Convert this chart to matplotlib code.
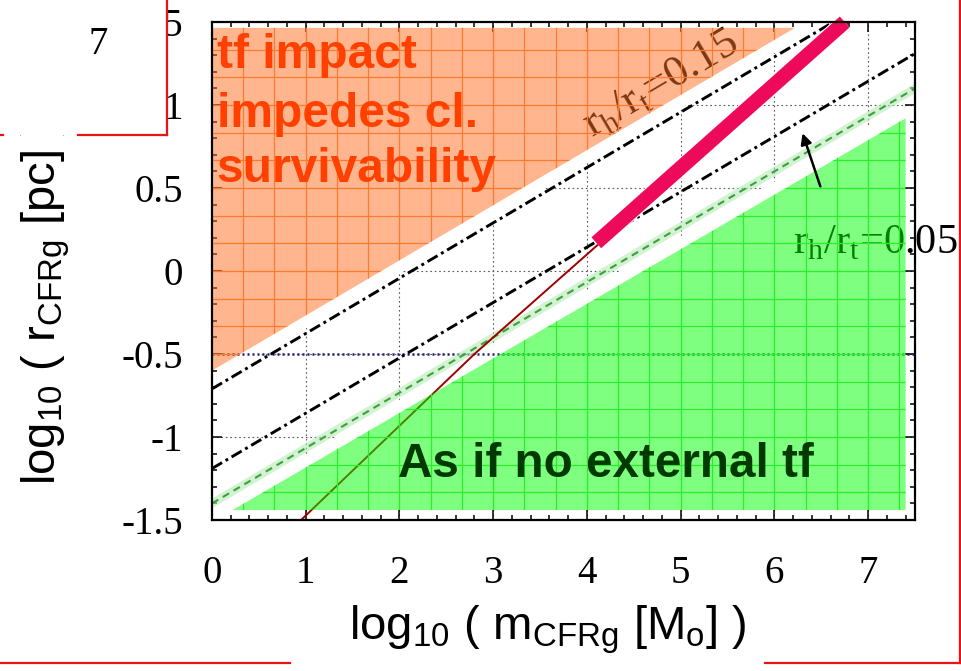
import numpy as np
import matplotlib
matplotlib.use("Agg")
import matplotlib.pyplot as plt
from matplotlib.patches import Polygon, Rectangle
from matplotlib.lines import Line2D
from matplotlib.ticker import MultipleLocator
import matplotlib.patheffects as pe

# ---- axis layout values ----
x_ticks = [0, 1, 2, 3, 4, 5, 6, 7]
x_tick_labels = ["0", "1", "2", "3", "4", "5", "6", "7"]
y_ticks = [-1.5, -1.0, -0.5, 0.0, 0.5, 1.0, 1.5]
y_tick_labels = ["-1.5", "-1", "-0.5", "0", "0.5", "1", "1.5"]

# ---- constant r_h/r_t loci (slope 1/3 in log r vs log m) ----
ratio015_x = [0.0, 6.63]
ratio015_y = [-0.71, 1.50]
ratio005_x = [0.0, 7.5]
ratio005_y = [-1.19, 1.31]
green_dash_x = [0.0, 7.5]
green_dash_y = [-1.40, 1.10]

# ---- radius-mass track of the cluster-forming region ----
track_x = [0.95, 2.80, 4.10, 6.80]
track_y = [-1.50, -0.50, 0.15, 1.50]
bold_x = [4.10, 6.75]
bold_y = [0.17, 1.50]

# ---- horizontal reference level ----
ref_x = [0.0, 7.5]
ref_y = [-0.5, -0.5]

# ---- shaded regimes ----
orange_x = [0.0, 6.22, 0.0]
orange_y = [-0.60, 1.465, 1.465]
green_x = [0.22, 7.40, 7.40]
green_y = [-1.44, 0.92, -1.44]

arrow_tail = (6.49, 0.51)
arrow_head = (6.30, 0.83)

orange_lines = ["tf impact", "impedes cl.", "survivability"]
orange_baselines = [1.223, 0.867, 0.536]

W, H = 961, 671
fig = plt.figure(figsize=(W / 100, H / 100), dpi=100)
ax = fig.add_axes([212 / W, (H - 520) / H, 703 / W, 498 / H])
ax.set_xlim(0, 7.5)
ax.set_ylim(-1.5, 1.5)

# major grid, drawn by hand so the white edges can sit over it
grid_kw = dict(color="#5a5a5a", lw=0.8, linestyle=(0, (1.5, 2.5)), zorder=0.5)
ax.vlines(x_ticks[1:], -1.5, 1.5, **grid_kw)
ax.hlines(y_ticks[1:-1], 0, 7.5, **grid_kw)

# white borders along the diagonal edges of both regimes
ax.plot([orange_x[0], orange_x[1]], [orange_y[0] - 0.035, orange_y[1] - 0.035],
        color="white", lw=9, solid_capstyle="butt", zorder=1.0)
ax.plot([green_x[0], green_x[1]], [green_y[0] + 0.035, green_y[1] + 0.035],
        color="white", lw=9, solid_capstyle="butt", zorder=1.0)

# reference lines
ax.plot(ref_x, ref_y, color="#1e1e70", lw=1.8, linestyle=(0, (0.8, 1.2)), zorder=2)
ax.plot(green_dash_x, green_dash_y, color="#b4ecb4", lw=6, alpha=0.6, zorder=2)
ax.plot(green_dash_x, green_dash_y, color="#3f9f3f", lw=1.5,
        linestyle=(0, (3.5, 2.5)), zorder=2.1)
dd = (0, (4, 1.4, 1, 1.4))
ax.plot(ratio015_x, ratio015_y, color="black", lw=2.1, linestyle=dd, zorder=2.2)
ax.plot(ratio005_x, ratio005_y, color="black", lw=2.1, linestyle=dd, zorder=2.2)

# track
ax.plot(track_x, track_y, color="#a00000", lw=1.4, zorder=2.5)
ax.plot(bold_x, bold_y, color="#ee0a5a", lw=10.5, solid_capstyle="butt",
        zorder=2.6, clip_on=False,
        path_effects=[pe.Stroke(linewidth=12, foreground="white"), pe.Normal()])

# angle of the slope-1/3 lines on screen
fig.canvas.draw()
p0 = ax.transData.transform((0, 0))
p1 = ax.transData.transform((3, 1))
ang = np.degrees(np.arctan2(p1[1] - p0[1], p1[0] - p0[0]))

serif = "Liberation Serif"
sans = "Liberation Sans"
ax.text(4.06, 0.80, r"r$_{\mathregular{h}}$/r$_{\mathregular{t}}$=0.15",
        fontfamily=serif, fontsize=32, rotation=ang, rotation_mode="anchor",
        ha="left", va="baseline", color="black", zorder=3)
ax.text(6.20, 0.108, r"r$_{\mathregular{h}}$/r$_{\mathregular{t}}$=0.05",
        fontfamily=serif, fontsize=30.5, ha="left", va="baseline",
        color="black", zorder=3, clip_on=False)

# translucent regime overlays with their own fine grid
for px, py, fc, lc in [(orange_x, orange_y, (1.0, 0.43, 0.12), "#ff7a2e"),
                       (green_x, green_y, (0.0, 1.0, 0.0), "#2aee2a")]:
    poly = Polygon(np.column_stack([px, py]), closed=True, facecolor=fc,
                   edgecolor="none", alpha=0.5, zorder=4)
    ax.add_patch(poly)
    vl = ax.vlines(np.arange(1, 23) / 3, -1.5, 1.5, color=lc, lw=0.9, zorder=4.1)
    hl = ax.hlines(np.arange(-8, 10) / 6, 0, 7.5, color=lc, lw=0.9, zorder=4.1)
    vl.set_clip_path(poly)
    hl.set_clip_path(poly)

for line, yb in zip(orange_lines, orange_baselines):
    ax.text(0.05, yb, line, fontfamily=sans, fontweight="bold", fontsize=34.5,
            color="#ff4000", ha="left", va="baseline", zorder=5)
ax.text(1.985, -1.24, "As if no external tf", fontfamily=sans,
        fontweight="bold", fontsize=34.3, color="#003a00", ha="left",
        va="baseline", zorder=5)

ax.annotate("", xy=arrow_head, xytext=arrow_tail, zorder=5,
            arrowprops=dict(arrowstyle="-|>", color="black", lw=1.8,
                            mutation_scale=16, shrinkA=0, shrinkB=0))

# ticks and frame
ax.set_xticks(x_ticks)
ax.set_xticklabels(x_tick_labels, fontfamily=serif)
ax.set_yticks(y_ticks)
ax.set_yticklabels(y_tick_labels, fontfamily=serif)
ax.xaxis.set_minor_locator(MultipleLocator(0.2))
ax.yaxis.set_minor_locator(MultipleLocator(0.1))
ax.tick_params(which="both", direction="in", top=True, right=True, width=1.1)
ax.tick_params(which="major", length=7, labelsize=28)
ax.tick_params(axis="x", which="major", pad=25)
ax.tick_params(axis="y", which="major", pad=21)
ax.tick_params(which="minor", length=3.5)
for s in ax.spines.values():
    s.set_linewidth(1.6)
    s.set_zorder(6)

# axis titles
fig.text(548 / W, 1 - 630 / H,
         r"log$_{\mathregular{10}}$ ( m$_{\mathregular{CFRg}}$ [M$_{\mathregular{o}}$] )",
         fontfamily=sans, fontsize=34, ha="center", va="center")
fig.text(46 / W, 1 - 303 / H,
         r"log$_{\mathregular{10}}$ ( r$_{\mathregular{CFRg}}$ [pc] )",
         fontfamily=sans, fontsize=34, ha="center", va="center", rotation=90)

# red-framed inset panel in the upper left and the outer frame
fig.add_artist(Rectangle((-0.01, 1 - 135 / H), 167 / W + 0.01, 135 / H + 0.02,
                         transform=fig.transFigure, facecolor="white",
                         edgecolor="none", zorder=10))
fig.text(98 / W, 1 - 45 / H, "7", fontfamily=serif, fontsize=28,
         ha="center", va="center", zorder=11)
red = "#ee1111"
frame_segments = [
    ([167, 167], [0, 135]),
    ([0, 3], [135, 135]),
    ([78, 167], [135, 135]),
    ([959.5, 959.5], [0, 663]),
    ([0, 290], [663, 663]),
    ([765, 960], [663, 663]),
]
for xs, ys in frame_segments:
    fig.add_artist(Line2D([v / W for v in xs], [1 - v / H for v in ys],
                          transform=fig.transFigure, color=red, lw=1.6,
                          zorder=11))

fig.savefig("out.png", dpi=100)
